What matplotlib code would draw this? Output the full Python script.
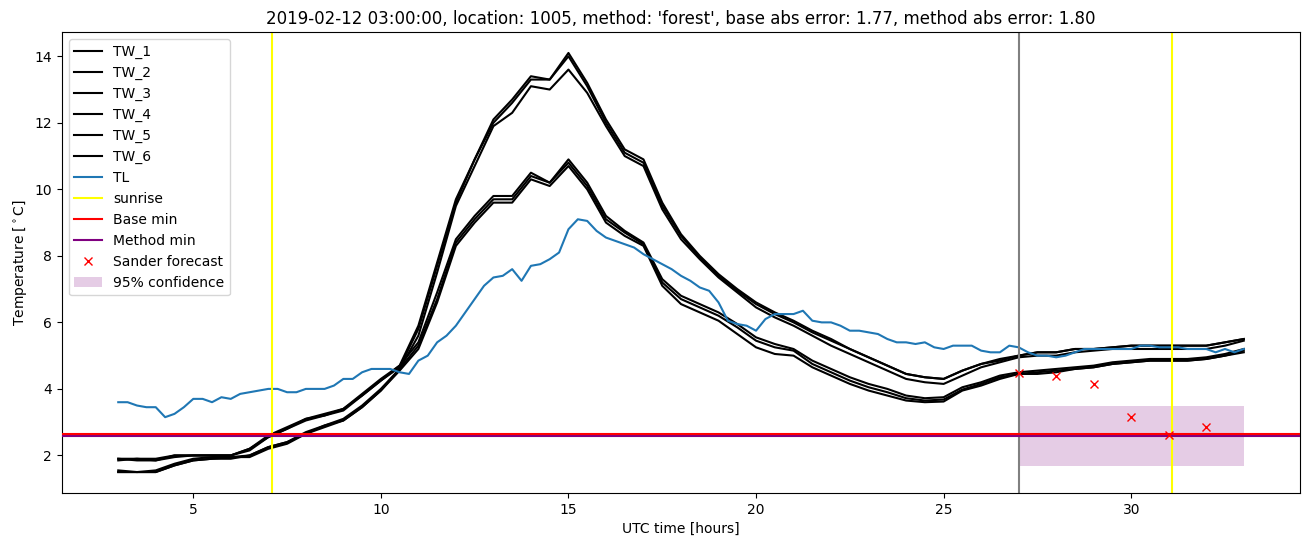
import numpy as np
import matplotlib
matplotlib.use("Agg")
import matplotlib.pyplot as plt

# half-hourly hours for the TW sensors, quarter-hourly for TL
hours_tw = np.arange(3.0, 33.01, 0.5)
hours_tl = np.arange(3.0, 33.01, 0.25)

tw_1 = [1.9, 1.9, 1.85, 2.0, 2.0, 2.0, 2.0, 2.2, 2.6, 2.85, 3.1, 3.25, 3.4, 3.85, 4.3, 4.7,
        5.9, 7.8, 9.7, 10.9, 12.1, 12.7, 13.4, 13.3, 14.1, 13.2, 12.1, 11.2, 10.9, 9.6, 8.65, 8.0, 7.45, 7.0, 6.6, 6.3,
        6.05, 5.75, 5.5, 5.2, 4.95, 4.7, 4.45, 4.35, 4.3, 4.55, 4.75, 4.9, 5.0, 5.1, 5.1, 5.2, 5.2, 5.25, 5.3, 5.3, 5.3, 5.3, 5.3, 5.4, 5.5]
tw_2 = [1.85, 1.9, 1.9, 2.0, 2.0, 2.0, 2.0, 2.15, 2.55, 2.8, 3.1, 3.2, 3.4, 3.8, 4.25, 4.65,
        5.8, 7.7, 9.6, 10.9, 12.0, 12.6, 13.3, 13.3, 14.0, 13.1, 12.0, 11.1, 10.8, 9.5, 8.6, 7.95, 7.4, 6.95, 6.55, 6.25,
        6.0, 5.7, 5.45, 5.2, 4.95, 4.7, 4.45, 4.35, 4.3, 4.55, 4.75, 4.85, 5.0, 5.1, 5.1, 5.2, 5.2, 5.25, 5.3, 5.3, 5.3, 5.3, 5.3, 5.4, 5.5]
tw_3 = [1.5, 1.5, 1.55, 1.75, 1.9, 1.95, 1.95, 2.0, 2.25, 2.4, 2.7, 2.9, 3.1, 3.5, 4.0, 4.6,
        5.6, 7.5, 9.5, 10.7, 11.9, 12.3, 13.1, 13.0, 13.6, 12.9, 11.9, 11.0, 10.7, 9.4, 8.5, 7.9, 7.35, 6.9, 6.45, 6.15,
        5.9, 5.6, 5.3, 5.05, 4.8, 4.55, 4.3, 4.2, 4.15, 4.4, 4.65, 4.8, 4.95, 5.0, 5.0, 5.1, 5.15, 5.2, 5.2, 5.2, 5.2, 5.2, 5.2, 5.3, 5.45]
tw_4 = [1.9, 1.85, 1.85, 1.95, 2.0, 2.0, 2.0, 2.2, 2.55, 2.8, 3.05, 3.2, 3.35, 3.8, 4.25, 4.7,
        5.4, 6.9, 8.5, 9.2, 9.8, 9.8, 10.5, 10.2, 10.9, 10.2, 9.2, 8.75, 8.4, 7.3, 6.8, 6.55, 6.3, 5.95, 5.55, 5.35,
        5.2, 4.85, 4.6, 4.35, 4.15, 4.0, 3.8, 3.72, 3.75, 4.05, 4.2, 4.4, 4.5, 4.55, 4.6, 4.65, 4.7, 4.8, 4.85, 4.9, 4.9, 4.9, 4.95, 5.05, 5.2]
tw_5 = [1.5, 1.5, 1.5, 1.7, 1.85, 1.9, 1.9, 2.0, 2.25, 2.4, 2.65, 2.9, 3.05, 3.45, 3.95, 4.6,
        5.3, 6.7, 8.4, 9.1, 9.7, 9.7, 10.4, 10.2, 10.8, 10.1, 9.1, 8.7, 8.35, 7.2, 6.7, 6.45, 6.2, 5.85, 5.45, 5.25,
        5.15, 4.75, 4.5, 4.25, 4.05, 3.9, 3.72, 3.65, 3.68, 3.98, 4.15, 4.35, 4.45, 4.5, 4.55, 4.6, 4.65, 4.75, 4.8, 4.85, 4.85, 4.85, 4.9, 5.0, 5.15]
tw_6 = [1.55, 1.5, 1.5, 1.7, 1.85, 1.9, 1.95, 1.95, 2.2, 2.35, 2.65, 2.85, 3.05, 3.45, 3.95, 4.55,
        5.2, 6.6, 8.3, 9.0, 9.6, 9.6, 10.3, 10.1, 10.7, 10.0, 9.0, 8.6, 8.3, 7.1, 6.55, 6.3, 6.05, 5.65, 5.25, 5.05,
        5.0, 4.65, 4.4, 4.15, 3.95, 3.8, 3.65, 3.6, 3.62, 3.95, 4.1, 4.3, 4.45, 4.45, 4.5, 4.6, 4.65, 4.75, 4.8, 4.85, 4.85, 4.85, 4.9, 5.0, 5.1]

tl = [3.6, 3.6, 3.5, 3.45, 3.45, 3.15, 3.25, 3.45, 3.7, 3.7, 3.6, 3.75,
      3.7, 3.85, 3.9, 3.95, 4.0, 4.0, 3.9, 3.9, 4.0, 4.0, 4.0, 4.1,
      4.3, 4.3, 4.5, 4.6, 4.6, 4.6, 4.5, 4.45, 4.85, 5.0, 5.4, 5.6,
      5.9, 6.3, 6.7, 7.1, 7.35, 7.4, 7.6, 7.25, 7.7, 7.75, 7.9, 8.1,
      8.8, 9.1, 9.05, 8.75, 8.55, 8.45, 8.35, 8.25, 8.05, 7.9, 7.75, 7.6,
      7.4, 7.25, 7.05, 6.95, 6.6, 6.05, 5.95, 5.9, 5.75, 6.1, 6.25, 6.25,
      6.25, 6.35, 6.05, 6.0, 6.0, 5.9, 5.75, 5.75, 5.7, 5.65, 5.5, 5.4,
      5.4, 5.35, 5.4, 5.25, 5.2, 5.3, 5.3, 5.3, 5.15, 5.1, 5.1, 5.3,
      5.25, 5.1, 5.0, 5.0, 4.95, 5.0, 5.1, 5.2, 5.2, 5.2, 5.2, 5.2,
      5.2, 5.3, 5.3, 5.25, 5.25, 5.25, 5.2, 5.2, 5.2, 5.1, 5.2, 5.1, 5.2]

sunrise_hours = [7.1, 31.1]
forecast_start = 27.0
base_min = 2.645
method_min = 2.59

sander_hours = [27, 28, 29, 30, 31, 32]
sander_values = [4.49, 4.39, 4.16, 3.16, 2.61, 2.85]

conf_hours = [27, 33]
conf_low = 1.68
conf_high = 3.5

title = "2019-02-12 03:00:00, location: 1005, method: 'forest', base abs error: 1.77, method abs error: 1.80"

fig, ax = plt.subplots(figsize=(13.1, 5.47), dpi=100)
fig.subplots_adjust(left=0.0473, right=0.9924, bottom=0.0987, top=0.9415)

for i, tw in enumerate([tw_1, tw_2, tw_3, tw_4, tw_5, tw_6]):
    ax.plot(hours_tw, tw, color="black", label=f"TW_{i + 1}")
ax.plot(hours_tl, tl, color="tab:blue", label="TL")

for j, h in enumerate(sunrise_hours):
    ax.axvline(h, color="yellow", label="sunrise" if j == 0 else None)
ax.axvline(forecast_start, color="grey")

ax.axhline(method_min, color="purple", label="Method min", zorder=3)
ax.axhline(base_min, color="red", label="Base min", zorder=4)

ax.plot(sander_hours, sander_values, "x", color="red", label="Sander forecast", zorder=5)
ax.fill_between(conf_hours, conf_low, conf_high, color="purple", alpha=0.2, lw=0,
                label="95% confidence")

handles, labels = ax.get_legend_handles_labels()
order = ["TW_1", "TW_2", "TW_3", "TW_4", "TW_5", "TW_6", "TL", "sunrise",
         "Base min", "Method min", "Sander forecast", "95% confidence"]
hmap = dict(zip(labels, handles))
ax.legend([hmap[k] for k in order], order, loc="upper left")

ax.set_title(title)
ax.set_xlabel("UTC time [hours]")
ax.set_ylabel("Temperature [$^\\circ$C]")

fig.savefig("out.png", dpi=100)
